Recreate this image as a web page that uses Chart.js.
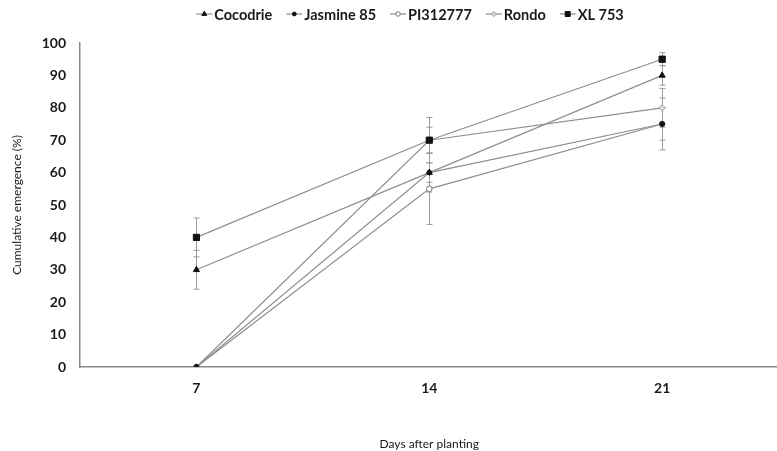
<!DOCTYPE html>
<html>
<head>
<meta charset="utf-8">
<script src="https://cdn.jsdelivr.net/npm/chart.js@4.4.1/dist/chart.umd.min.js"></script>
<style>
  html, body { margin: 0; padding: 0; background: #fff; overflow: hidden; }
  #wrap { position: relative; width: 784px; height: 451px; }
</style>
</head>
<body>
<div id="wrap"><canvas id="emergenceChart"></canvas></div>
<script>
// Days after planting
const days = ['7', '14', '21'];

// Cumulative emergence (%) per cultivar
const cocodrie = [30, 60, 90];
const jasmine85 = [0, 60, 75];
const pi312777 = [0, 55, 75];
const rondo = [0, 70, 80];
const xl753 = [40, 70, 95];

// Standard error for each point
const cocodrieErr = [6, 3, 3];
const jasmine85Err = [0, 6, 8];
const pi312777Err = [0, 11, 5];
const rondoErr = [0, 4, 6];
const xl753Err = [6, 7, 2];

const yTicks = [0, 10, 20, 30, 40, 50, 60, 70, 80, 90, 100];

const FONT = "Lato, 'Open Sans', sans-serif";
const LINE = '#8e8e8e';

// lower order is painted last (on top)
const series = [
    { label: 'Cocodrie', data: cocodrie, err: cocodrieErr, pointStyle: 'triangle', radius: 3.5, fill: '#111', stroke: '#111', order: 3 },
    { label: 'Jasmine 85', data: jasmine85, err: jasmine85Err, pointStyle: 'circle', radius: 2.4, fill: '#111', stroke: '#111', order: 0 },
    { label: 'PI312777', data: pi312777, err: pi312777Err, pointStyle: 'circle', radius: 2.8, fill: '#fff', stroke: '#777', order: 4 },
    { label: 'Rondo', data: rondo, err: rondoErr, pointStyle: 'rectRot', radius: 3.2, fill: '#ddd', stroke: '#999', order: 5 },
    { label: 'XL 753', data: xl753, err: xl753Err, pointStyle: 'rect', radius: 4.4, fill: '#111', stroke: '#111', order: 1 }
];

// vertical error bars with small caps, drawn under the lines
const errorBars = {
    id: 'errorBars',
    beforeDatasetsDraw(chart) {
        const ctx = chart.ctx;
        const y = chart.scales.y;
        ctx.save();
        ctx.strokeStyle = '#9a9a9a';
        ctx.lineWidth = 1;
        series.forEach((s, i) => {
            const meta = chart.getDatasetMeta(i);
            s.data.forEach((v, j) => {
                const e = s.err[j];
                if (!e) return;
                const x = Math.round(meta.data[j].x) + 0.5;
                const top = y.getPixelForValue(v + e);
                const bot = y.getPixelForValue(v - e);
                ctx.beginPath();
                ctx.moveTo(x, top); ctx.lineTo(x, bot);
                ctx.moveTo(x - 3, top); ctx.lineTo(x + 3, top);
                ctx.moveTo(x - 3, bot); ctx.lineTo(x + 3, bot);
                ctx.stroke();
            });
        });
        ctx.restore();
    }
};

// legend row: short line with the series marker, then bold name
const lineLegend = {
    id: 'lineLegend',
    afterDraw(chart) {
        const ctx = chart.ctx;
        const cy = 14;
        const seg = 16, gap = 2, spacing = 14;
        ctx.save();
        ctx.font = 'bold 14.5px ' + FONT;
        const widths = series.map(s => seg + gap + ctx.measureText(s.label).width);
        const total = widths.reduce((a, b) => a + b, 0) + spacing * (series.length - 1);
        let x = 410 - total / 2;
        series.forEach((s, i) => {
            ctx.strokeStyle = LINE;
            ctx.lineWidth = 1.2;
            ctx.beginPath();
            ctx.moveTo(x, cy); ctx.lineTo(x + seg, cy);
            ctx.stroke();
            ctx.fillStyle = s.fill;
            ctx.strokeStyle = s.stroke;
            ctx.lineWidth = 1;
            Chart.helpers.drawPoint(ctx, { pointStyle: s.pointStyle, radius: s.radius * 0.8, rotation: 0, borderWidth: 1 }, x + seg / 2, cy);
            ctx.fillStyle = '#1a1a1a';
            ctx.textBaseline = 'middle';
            ctx.textAlign = 'left';
            ctx.fillText(s.label, x + seg + gap, cy + 1);
            x += widths[i] + spacing;
        });
        ctx.restore();
    }
};

new Chart(document.getElementById('emergenceChart'), {
    type: 'line',
    data: {
        labels: days,
        datasets: series.map(s => ({
            label: s.label,
            data: s.data,
            order: s.order,
            borderColor: LINE,
            borderWidth: 1.2,
            tension: 0,
            fill: false,
            pointStyle: s.pointStyle,
            pointRadius: s.radius,
            pointHoverRadius: s.radius,
            pointBackgroundColor: s.fill,
            pointBorderColor: s.stroke,
            pointBorderWidth: 1
        }))
    },
    options: {
        responsive: true,
        maintainAspectRatio: false,
        animation: false,
        layout: { padding: { top: 43, right: 0, left: 0, bottom: 0 } },
        plugins: { legend: { display: false }, tooltip: { enabled: false } },
        scales: {
            x: {
                type: 'category',
                offset: true,
                grid: { display: false, drawTicks: false },
                border: { color: '#8a8a8a', width: 1.5 },
                ticks: { color: '#1a1a1a', font: { family: FONT, size: 14, weight: 'bold' }, padding: 13, maxRotation: 0 },
                title: { display: true, text: 'Days after planting', color: '#1a1a1a', font: { family: FONT, size: 12 }, padding: { top: 7, bottom: 0 } },
                afterFit(scale) { scale.height = 84; }
            },
            y: {
                min: 0,
                max: 100,
                afterBuildTicks(scale) { scale.ticks = yTicks.map(v => ({ value: v })); },
                grid: { display: false, drawTicks: false },
                border: { color: '#8a8a8a', width: 1.5 },
                ticks: { color: '#1a1a1a', font: { family: FONT, size: 14, weight: 'bold' }, padding: 14 },
                title: { display: true, text: 'Cumulative emergence (%)', color: '#1a1a1a', font: { family: FONT, size: 12 }, padding: { top: 10, bottom: 0 } },
                afterFit(scale) { scale.width = 80; }
            }
        }
    },
    plugins: [errorBars, lineLegend]
});
</script>
</body>
</html>
